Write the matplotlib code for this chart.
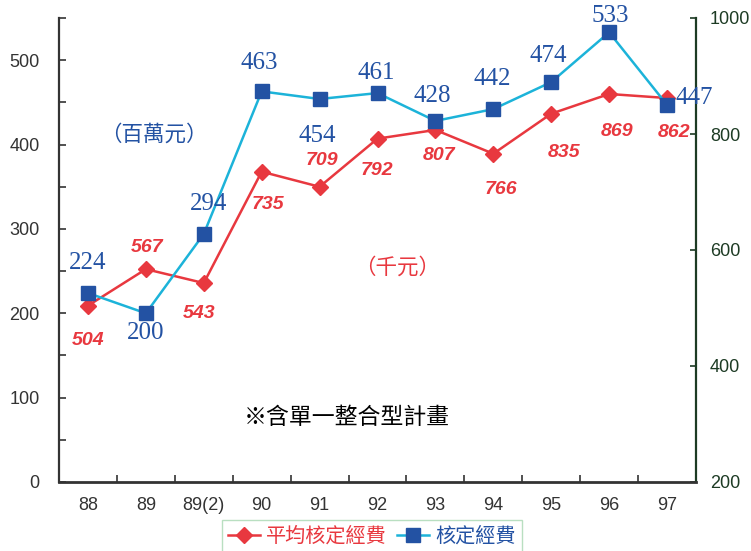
import matplotlib
matplotlib.use("Agg")
import matplotlib.pyplot as plt
from matplotlib.ticker import MultipleLocator, FixedLocator
from matplotlib.lines import Line2D

years = ["88", "89", "89(2)", "90", "91", "92", "93", "94", "95", "96", "97"]
total = [224, 200, 294, 463, 454, 461, 428, 442, 474, 533, 447]   # 核定經費 (百萬元)
avg = [504, 567, 543, 735, 709, 792, 807, 766, 835, 869, 862]     # 平均核定經費 (千元)

# where the value labels sit, pixels from the marker
total_off = [(0, 30), (0, -20), (5, 30), (-2, 28), (-2, -37), (-1, 20),
             (-3, 25), (-1, 30), (-3, 26), (1, 16), (27, 7)]
avg_off = [(0, -35), (1, 22), (-5, -30), (6, -33), (2, 26), (-1, -32),
           (4, -26), (8, -36), (13, -39), (8, -38), (7, -34)]

BLUE_LINE = "#1cb3d9"
BLUE = "#2352a3"
RED = "#e8383f"
GREEN = "#1d3b24"
GREY = "#333333"
CJK = ["Noto Sans CJK TC", "DejaVu Sans"]

W, H = 751, 551
fig = plt.figure(figsize=(W / 100, H / 100), dpi=100)
ax = fig.add_axes([59 / W, 1 - 482 / H, (696 - 59) / W, (482 - 18) / H])
ax2 = ax.twinx()

x = list(range(len(years)))

ax.plot(x, total, color=BLUE_LINE, lw=1.8, marker="s", ms=10,
        mfc=BLUE, mec=BLUE, zorder=3)
ax2.plot(x, avg, color=RED, lw=1.8, marker="D", ms=8,
         mfc=RED, mec=RED, zorder=3)

for xi, v, (dx, dy) in zip(x, total, total_off):
    ax.annotate(str(v), (xi, v), xytext=(dx, dy), textcoords="offset pixels",
                ha="center", va="center", color=BLUE, fontsize=18,
                family="Liberation Serif", zorder=5, annotation_clip=False)
for xi, v, (dx, dy) in zip(x, avg, avg_off):
    ax2.annotate(str(v), (xi, v), xytext=(dx, dy), textcoords="offset pixels",
                 ha="center", va="center", color=RED, fontsize=14,
                 family="Liberation Sans", weight="bold", style="italic",
                 zorder=5, annotation_clip=False)

ax.set_xlim(-0.5, len(years) - 0.5)
ax.set_ylim(0, 550)
ax2.set_ylim(200, 1000)

# category boundaries as ticks, names centred between them
ax.xaxis.set_major_locator(FixedLocator([i + 0.5 for i in range(len(years) - 1)]))
ax.xaxis.set_minor_locator(FixedLocator(x))
ax.set_xticklabels([], minor=False)
ax.set_xticklabels(years, minor=True)
ax.tick_params(axis="x", which="major", direction="in", length=5, width=1.2, color=GREY)
ax.tick_params(axis="x", which="minor", length=0, pad=11, labelsize=13, labelcolor=GREY)
for lab in ax.get_xticklabels(minor=True):
    lab.set_family("Liberation Sans")

ax.yaxis.set_major_locator(MultipleLocator(100))
ax.yaxis.set_minor_locator(MultipleLocator(50))
ax.tick_params(axis="y", which="both", direction="in", length=5, width=1.2,
               color=GREY, pad=14, labelsize=13, labelcolor=GREY)
for lab in ax.get_yticklabels():
    lab.set_family("Liberation Sans")

ax2.yaxis.set_major_locator(MultipleLocator(200))
ax2.tick_params(axis="y", direction="in", length=4, width=1.2, color=GREEN,
                pad=10, labelsize=13, labelcolor=GREEN)
for lab in ax2.get_yticklabels():
    lab.set_family("Liberation Sans")

for a in (ax, ax2):
    a.spines["top"].set_visible(False)
ax.spines["right"].set_visible(False)
ax2.spines["left"].set_visible(False)
ax2.spines["bottom"].set_visible(False)
ax.spines["left"].set_color(GREY)
ax.spines["bottom"].set_color(GREY)
ax.spines["left"].set_linewidth(1.6)
ax.spines["bottom"].set_linewidth(2.0)
ax2.spines["right"].set_color(GREEN)
ax2.spines["right"].set_linewidth(1.6)
ax2.set_zorder(ax.get_zorder() - 1)
ax.patch.set_visible(False)

fig.text(154 / W, 1 - 135 / H, "（百萬元）", color=BLUE, fontsize=15.5,
         family=CJK, ha="center", va="center")
fig.text(397 / W, 1 - 268 / H, "（千元）", color=RED, fontsize=15.5,
         family=CJK, ha="center", va="center")
fig.text(347 / W, 1 - 418 / H, "※含單一整合型計畫", color="black", fontsize=16.5,
         family=CJK, ha="center", va="center")

handles = [
    Line2D([], [], color=RED, lw=1.8, marker="D", ms=8, mfc=RED, mec=RED),
    Line2D([], [], color=BLUE_LINE, lw=1.8, marker="s", ms=10, mfc=BLUE, mec=BLUE),
]
leg = fig.legend(handles, ["平均核定經費", "核定經費"], loc="upper left",
                 bbox_to_anchor=(222 / W, 1 - 520 / H), ncol=2, frameon=True,
                 fancybox=False, prop={"family": CJK, "size": 14.5},
                 handlelength=1.6, handletextpad=0.3, columnspacing=0.5,
                 borderpad=0.3, borderaxespad=0)
leg.get_frame().set_edgecolor("#a8d8b2")
leg.get_frame().set_linewidth(1.0)
leg.get_texts()[0].set_color(RED)
leg.get_texts()[1].set_color(BLUE)

fig.savefig("out.png", dpi=100)
